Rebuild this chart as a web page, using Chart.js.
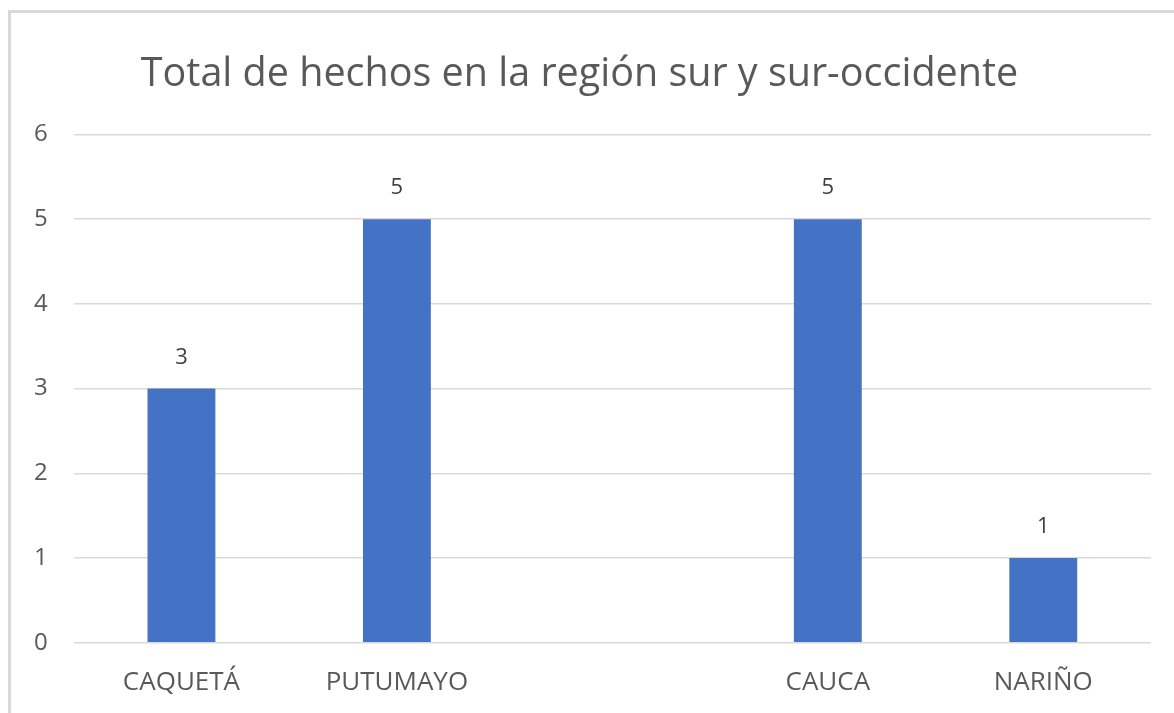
<!DOCTYPE html>
<html>
<head>
<meta charset="utf-8">
<script src="https://cdn.jsdelivr.net/npm/chart.js"></script>
<style>
  html, body { margin: 0; padding: 0; background: #fff; }
  #wrap { position: relative; width: 1174px; height: 713px; overflow: hidden; }
  #frame { position: absolute; left: 8px; top: 10px; width: 1200px; height: 800px;
           border-left: 3px solid #d9d9d9; border-top: 3px solid #d9d9d9; }
  canvas { position: absolute; left: 0; top: 0; }
</style>
</head>
<body>
<div id="wrap">
  <div id="frame"></div>
  <canvas id="myChart" width="1174" height="713"></canvas>
</div>
<script>
const regiones = ['CAQUETÁ', 'PUTUMAYO', '', 'CAUCA', 'NARIÑO'];
const hechos = [3, 5, null, 5, 1];
const yTicks = [0, 1, 2, 3, 4, 5, 6];

const textColor = '#595959';

// etiquetas encima de cada barra
const barLabels = {
    id: 'barLabels',
    afterDatasetsDraw(chart) {
        const c = chart.ctx;
        const meta = chart.getDatasetMeta(0);
        c.save();
        c.font = '22px "Open Sans", sans-serif';
        c.fillStyle = '#404040';
        c.textAlign = 'center';
        c.textBaseline = 'middle';
        meta.data.forEach((bar, i) => {
            if (hechos[i] == null) return;
            c.fillText(hechos[i], bar.x, bar.y - 31);
        });
        c.restore();
    }
};

const ctx = document.getElementById('myChart').getContext('2d');
const myChart = new Chart(ctx, {
    type: 'bar',
    data: {
        labels: regiones,
        datasets: [{
            label: 'Total',
            data: hechos,
            backgroundColor: '#4472c4',
            borderWidth: 0,
            barPercentage: 0.63,
            categoryPercentage: 0.5
        }]
    },
    options: {
        responsive: false,
        animation: false,
        layout: {
            padding: { left: 8, right: 23, top: 51, bottom: -1 }
        },
        scales: {
            x: {
                grid: { display: false },
                border: { display: false },
                ticks: {
                    color: textColor,
                    font: { size: 26, family: '"Open Sans", sans-serif' },
                    padding: 16,
                    maxRotation: 0
                }
            },
            y: {
                min: 0,
                max: 6,
                afterBuildTicks(axis) {
                    axis.ticks = yTicks.map(v => ({ value: v }));
                },
                grid: { color: '#d9d9d9', lineWidth: 1.5, drawTicks: false },
                border: { display: false },
                ticks: {
                    color: textColor,
                    font: { size: 24, family: '"Open Sans", sans-serif' },
                    padding: 26
                }
            }
        },
        plugins: {
            legend: { display: false },
            tooltip: { enabled: false },
            title: {
                display: true,
                text: 'Total de hechos en la región sur y sur-occidente',
                color: textColor,
                font: { size: 39.5, weight: 'normal', family: '"Open Sans", sans-serif' },
                padding: { top: 0, bottom: 36 }
            }
        }
    },
    plugins: [barLabels]
});
</script>
</body>
</html>
